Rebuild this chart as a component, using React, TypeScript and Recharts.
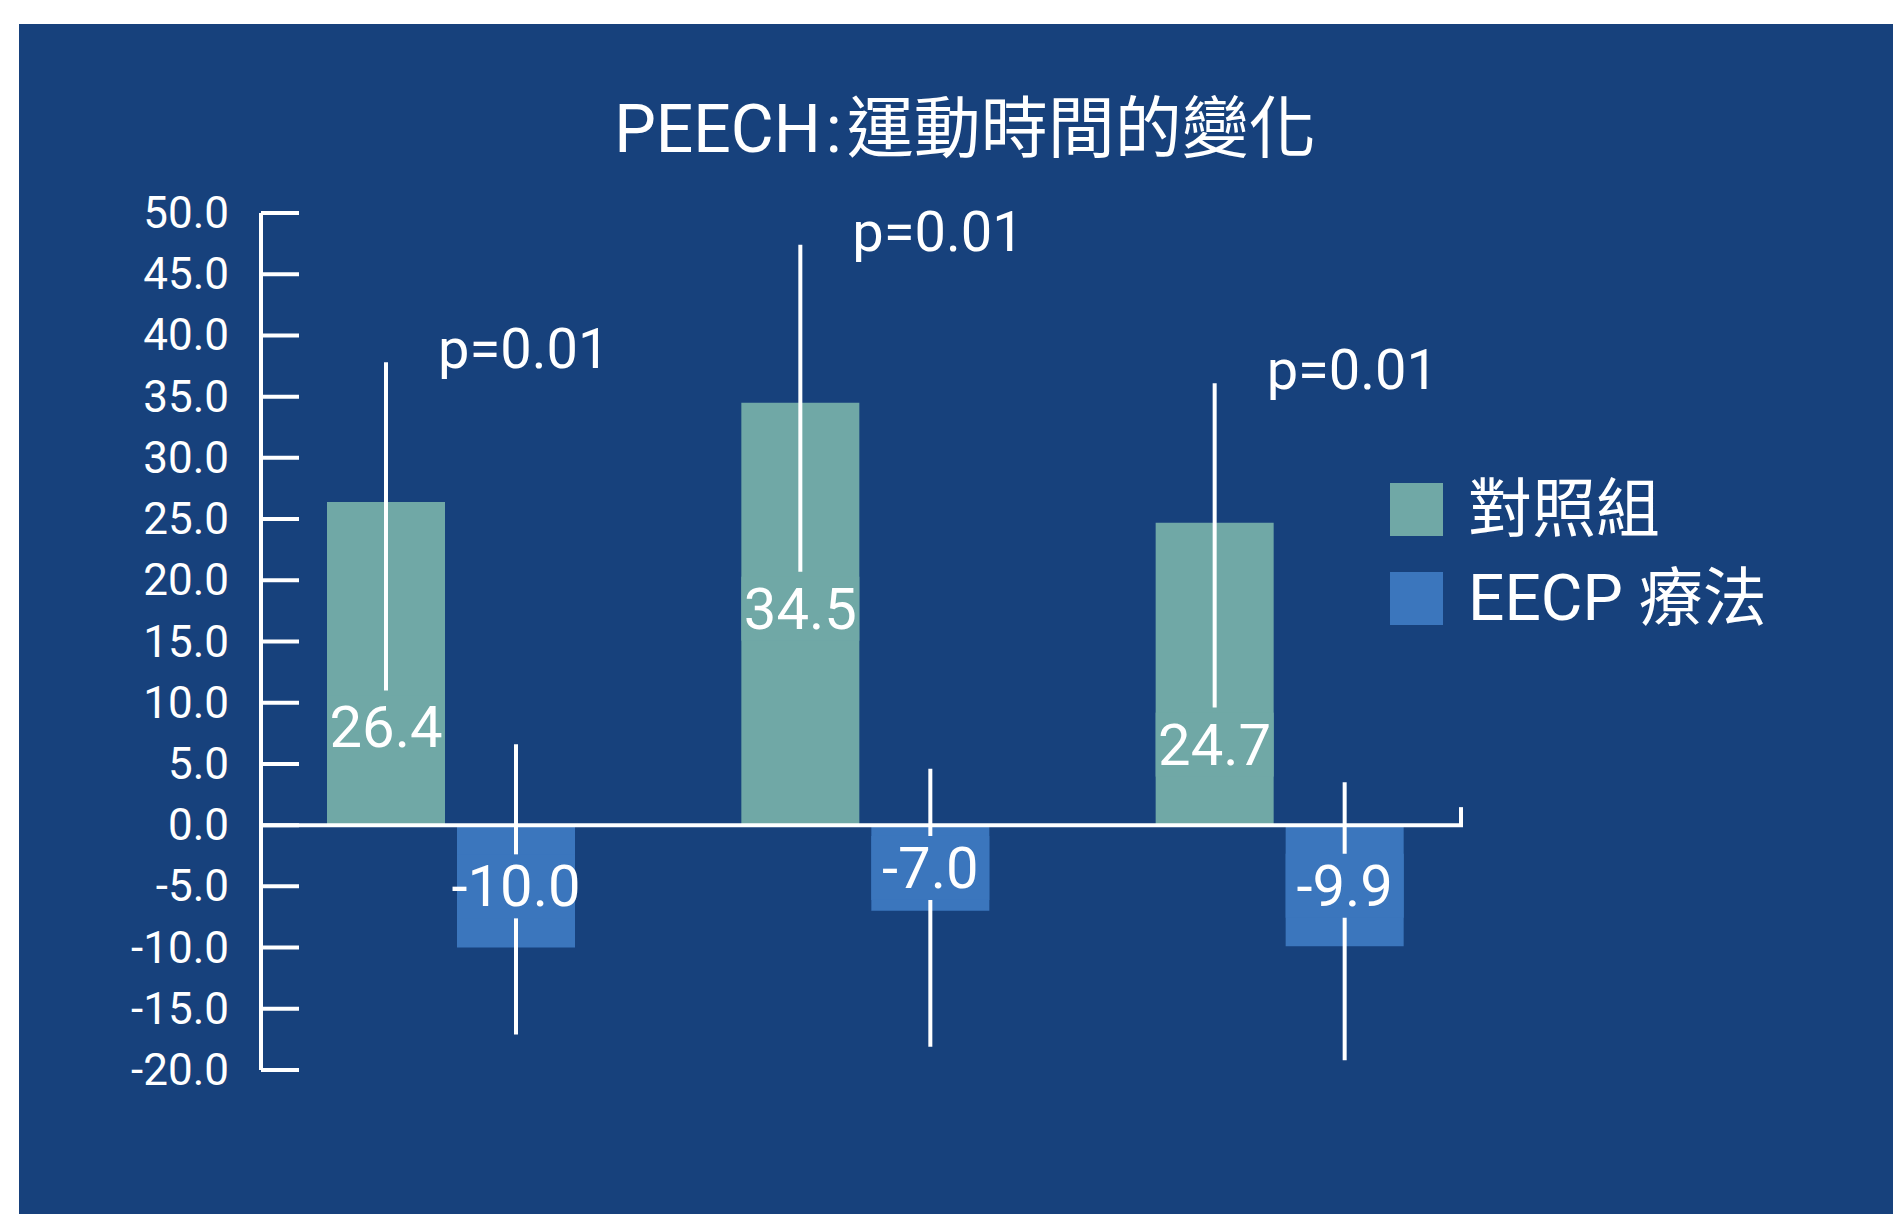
import React from 'react';
import { BarChart, Bar, XAxis, YAxis, ErrorBar, LabelList, ReferenceLine, Legend } from 'recharts';

const titleLatin = 'PEECH';
const titleCjk = '運動時間的變化';
const groups = ['1', '2', '3'];
const seriesNames = ['對照組', 'EECP 療法'];
const controlValues = [26.4, 34.5, 24.7];
const eecpValues = [-10.0, -7.0, -9.9];
// where each error line starts and ends
const controlLow = [11.0, 20.7, 9.6];
const controlHigh = [37.8, 47.4, 36.1];
const eecpLow = [-17.1, -18.1, -19.2];
const eecpHigh = [6.6, 4.6, 3.5];
const pLabels = ['p=0.01', 'p=0.01', 'p=0.01'];
const yTicks = [-20, -15, -10, -5, 0, 5, 10, 15, 20, 25, 30, 35, 40, 45, 50];

const BG = '#17417c';
const GREEN = '#70a8a6';
const BLUE = '#3b76bd';
const FONT = "Roboto, 'Noto Sans CJK TC', sans-serif";

const data = groups.map((g, i) => ({
  group: g,
  control: controlValues[i],
  eecp: eecpValues[i],
  controlErr: [controlValues[i] - controlLow[i], controlHigh[i] - controlValues[i]],
  eecpErr: [eecpValues[i] - eecpLow[i], eecpHigh[i] - eecpValues[i]],
}));

function barBox(props: any) {
  const vb = props.viewBox ?? props;
  const top = Math.min(vb.y, vb.y + vb.height);
  const h = Math.abs(vb.height);
  return { x: vb.x, w: vb.width, top, h };
}

const YTick = (props: any) => {
  const { x, y, payload } = props;
  return (
    <g>
      <line x1={x + 32} x2={x + 70} y1={y} y2={y} stroke="#fff" strokeWidth={4} />
      <text x={x} y={y} textAnchor="end" dominantBaseline="central" fill="#fff" fontSize={44} fontFamily={FONT}>
        {Number(payload.value).toFixed(1)}
      </text>
    </g>
  );
};

const makeValueLabel = (fill: string, values: number[], lows: number[]) => (props: any) => {
  const i = props.index;
  const v = values[i];
  const { x, w, top, h } = barBox(props);
  const ppu = h / Math.abs(v);
  let cy;
  if (v >= 0) cy = top + h - lows[i] * ppu + 37;
  else cy = top + h / 2;
  return (
    <g>
      <rect x={x} y={cy - 32} width={w} height={64} fill={fill} />
      <text x={x + w / 2} y={cy} textAnchor="middle" dominantBaseline="central" fill="#fff" fontSize={58} fontFamily={FONT}>
        {v.toFixed(1)}
      </text>
    </g>
  );
};

const PLabel = (props: any) => {
  const i = props.index;
  const { x, w, top, h } = barBox(props);
  const ppu = h / controlValues[i];
  const errTop = top + h - controlHigh[i] * ppu;
  return (
    <text x={x + w / 2 + 52} y={errTop + 6} fill="#fff" fontSize={56} fontFamily={FONT}>
      {pLabels[i]}
    </text>
  );
};

const ZeroLine = (p: any) => {
  const x1 = Math.min(p.x1, p.x2);
  const x2 = Math.max(p.x1, p.x2);
  return (
    <g>
      <line x1={x1} x2={x2} y1={p.y1} y2={p.y1} stroke="#fff" strokeWidth={4} />
      <line x1={x2 - 2} x2={x2 - 2} y1={p.y1} y2={p.y1 - 18} stroke="#fff" strokeWidth={4} />
    </g>
  );
};

const LegendBox = () => (
  <div style={{ fontFamily: FONT, color: '#fff' }}>
    {seriesNames.map((name, i) => (
      <div key={name} style={{ display: 'flex', alignItems: 'center', height: 53, marginBottom: i === 0 ? 36 : 0 }}>
        <div style={{ width: 53, height: 53, background: i === 0 ? GREEN : BLUE, marginRight: 25 }} />
        <span style={{ fontSize: 64, lineHeight: '64px', whiteSpace: 'nowrap' }}>{name}</span>
      </div>
    ))}
  </div>
);

export default function App() {
  return (
    <div style={{ position: 'absolute', left: 0, top: 0, width: 1893, height: 1214, background: '#fff', overflow: 'hidden' }}>
      <div style={{ position: 'absolute', left: 19, top: 24, right: 0, bottom: 0, background: BG }} />
      <div
        style={{
          position: 'absolute', left: 465, top: 94, width: 1000, textAlign: 'center',
          color: '#fff', fontFamily: FONT, fontSize: 66, lineHeight: '70px', whiteSpace: 'nowrap',
        }}
      >
        <span>{titleLatin}</span>
        <span style={{ margin: '0 5px' }}>:</span>
        <span style={{ fontSize: 67 }}>{titleCjk}</span>
      </div>
      <div style={{ position: 'absolute', left: 0, top: 0 }}>
        <BarChart width={1893} height={1214} data={data} margin={{ top: 213, right: 430, bottom: 144, left: 0 }} barSize={118} barGap={12}>
          <XAxis dataKey="group" hide padding={{ left: -17, right: -24 }} />
          <YAxis
            domain={[-20, 50]}
            ticks={yTicks}
            interval={0}
            width={261}
            tickSize={0}
            tickMargin={32}
            tickLine={false}
            axisLine={{ stroke: '#fff', strokeWidth: 4 }}
            tick={<YTick />}
          />
          <Bar dataKey="control" name={seriesNames[0]} fill={GREEN} isAnimationActive={false}>
            <ErrorBar dataKey="controlErr" width={0} stroke="#fff" strokeWidth={4} direction="y" isAnimationActive={false} />
            <LabelList dataKey="control" content={makeValueLabel(GREEN, controlValues, controlLow)} />
            <LabelList dataKey="control" content={PLabel} />
          </Bar>
          <Bar dataKey="eecp" name={seriesNames[1]} fill={BLUE} isAnimationActive={false}>
            <ErrorBar dataKey="eecpErr" width={0} stroke="#fff" strokeWidth={4} direction="y" isAnimationActive={false} />
            <LabelList dataKey="eecp" content={makeValueLabel(BLUE, eecpValues, eecpLow)} />
          </Bar>
          <ReferenceLine y={0} shape={ZeroLine} />
          <Legend
            layout="vertical"
            align="center"
            verticalAlign="middle"
            wrapperStyle={{ left: 1390, top: 483, width: 'auto', height: 'auto' }}
            content={() => <LegendBox />}
          />
        </BarChart>
      </div>
    </div>
  );
}
